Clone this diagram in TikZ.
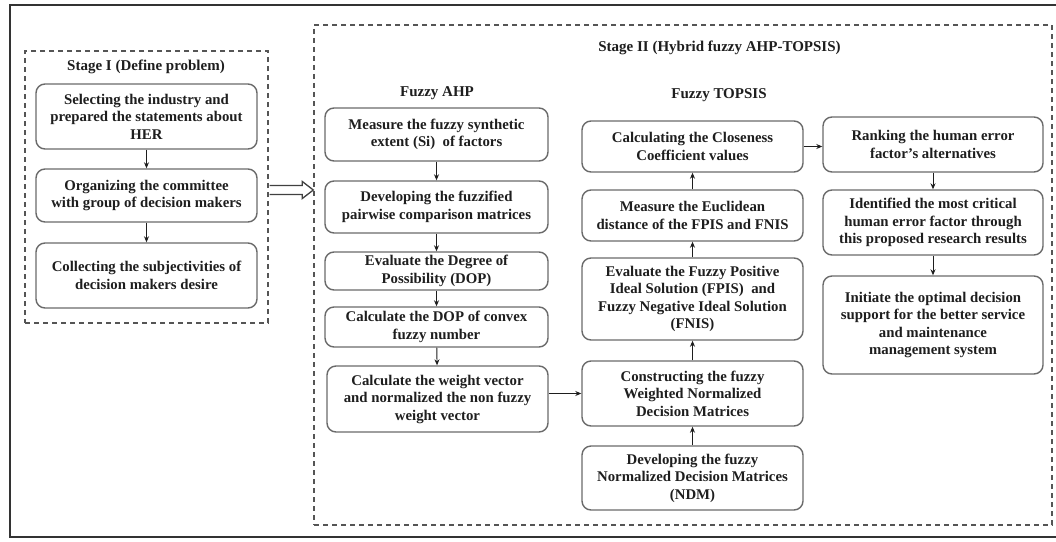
\documentclass[tikz,border=0pt]{standalone}
\usepackage{fontspec}
\setmainfont{Liberation Serif}
\usetikzlibrary{arrows.meta,calc}
\definecolor{txt}{HTML}{1E1E1E}
\definecolor{bordergrey}{HTML}{6A6A6A}
\definecolor{dashgrey}{HTML}{555555}
\begin{document}
\begin{tikzpicture}[x=1pt,y=-1pt,
  stepbox/.style={draw=bordergrey, line width=1.4pt, rounded corners=9pt, inner sep=0pt, align=center, text=txt,
    font=\fontsize{14.8}{17.5}\selectfont\bfseries},
  stagebox/.style={draw=dashgrey, line width=1.4pt, dash pattern=on 5pt off 4pt, inner sep=0pt},
  ttl/.style={text=txt, font=\fontsize{15}{17}\selectfont\bfseries, inner sep=0pt},
  conn/.style={draw=txt, line width=0.9pt, -{Stealth[length=6pt,width=5pt]}},
]
\useasboundingbox (0,0) rectangle (1056,541);
\fill[white] (0,0) rectangle (1056,541);
% outer frame (right side cropped)
\draw[line width=2pt, draw=black!80] (1056,5) -- (10,5) -- (10,537) -- (1056,537);

% Stage I
\node[stagebox, minimum width=243pt, minimum height=272pt] (stage1) at (146.5,187) {};
\node[ttl] (t1) at (146,67) {Stage I (Define problem)};
\node[stepbox, minimum width=221pt, minimum height=65pt] (s1) at (146.5,116.5) {Selecting the industry and\\prepared the statements about\\HER};
\node[stepbox, minimum width=221pt, minimum height=53pt] (s2) at (146.5,195.5) {Organizing the committee\\with group of decision makers};
\node[stepbox, minimum width=221pt, minimum height=65pt] (s3) at (146.5,275.5) {Collecting the subjectivities of\\decision makers desire};
\draw[conn] (s1) -- (s2);
\draw[conn] (s2) -- (s3);

% Stage II
\node[stagebox, minimum width=738pt, minimum height=500pt] (stage2) at (683,275) {};
\node[ttl] (t2) at (719.5,48) {Stage II (Hybrid fuzzy AHP-TOPSIS)};
% hollow block arrow from Stage I to Stage II
\coordinate (ha) at (stage1.east |- 0,190);
\coordinate (hb) at (stage2.west |- 0,190);
\draw[draw=black!75, fill=white, line width=1.3pt, line join=miter]
  ($(ha)+(1,-4.5)$) -- ($(hb)+(-11,-4.5)$) -- ($(hb)+(-11,-8.5)$) -- (hb) -- ($(hb)+(-11,8.5)$) -- ($(hb)+(-11,4.5)$) -- ($(ha)+(1,4.5)$);

% Fuzzy AHP
\node[ttl] (tahp) at (437,93) {Fuzzy AHP};
\node[stepbox, minimum width=223pt, minimum height=53pt] (a1) at (436.5,134.5) {Measure the fuzzy synthetic\\extent (Si)\ \ of factors};
\node[stepbox, minimum width=223pt, minimum height=52pt] (a2) at (436.5,207) {Developing the fuzzified\\pairwise comparison matrices};
\node[stepbox, minimum width=223pt, minimum height=38pt] (a3) at (436.5,271) {Evaluate the Degree of\\Possibility (DOP)};
\node[stepbox, minimum width=223pt, minimum height=40pt] (a4) at (436.5,327) {Calculate the DOP of convex\\fuzzy number};
\node[stepbox, minimum width=221pt, minimum height=66pt] (a5) at (437.5,399) {Calculate the weight vector\\and normalized the non fuzzy\\weight vector};
\draw[conn] (a1) -- (a2);
\draw[conn] (a2) -- (a3);
\draw[conn] (a3) -- (a4);
\draw[conn] (a4) -- (a5);

% Fuzzy TOPSIS
\node[ttl] (ttop) at (719,95) {Fuzzy TOPSIS};
\node[stepbox, minimum width=221pt, minimum height=51pt] (p1) at (692.5,146.5) {Calculating the Closeness\\Coefficient values};
\node[stepbox, minimum width=221pt, minimum height=51pt] (p2) at (692.5,215.5) {Measure the Euclidean\\distance of the FPIS and FNIS};
\node[stepbox, minimum width=221pt, minimum height=82pt] (p3) at (692.5,299) {Evaluate the Fuzzy Positive\\Ideal Solution (FPIS)\ \ and\\Fuzzy Negative Ideal Solution\\(FNIS)};
\node[stepbox, minimum width=221pt, minimum height=65pt] (p4) at (692.5,393.5) {Constructing the fuzzy\\Weighted Normalized\\Decision Matrices};
\node[stepbox, minimum width=221pt, minimum height=64pt] (p5) at (692.5,478) {Developing the fuzzy\\Normalized Decision Matrices\\(NDM)};
\draw[conn] (p5) -- (p4);
\draw[conn] (p4) -- (p3);
\draw[conn] (p3) -- (p2);
\draw[conn] (p2) -- (p1);
\draw[conn] (a5.east |- p4.west) -- (p4.west);

% Results
\node[stepbox, minimum width=220pt, minimum height=55pt] (r1) at (933,144.5) {Ranking the human error\\factor's alternatives};
\node[stepbox, minimum width=220pt, minimum height=65pt] (r2) at (933,222.5) {Identified the most critical\\human error factor through\\this proposed research results};
\node[stepbox, minimum width=220pt, minimum height=98pt] (r3) at (933,325) {Initiate the optimal decision\\support for the better service\\and maintenance\\management system};
\draw[conn] (p1.east) -- (r1.west |- p1.east);
\draw[conn] (r1) -- (r2);
\draw[conn] (r2) -- (r3);
\end{tikzpicture}
\end{document}
